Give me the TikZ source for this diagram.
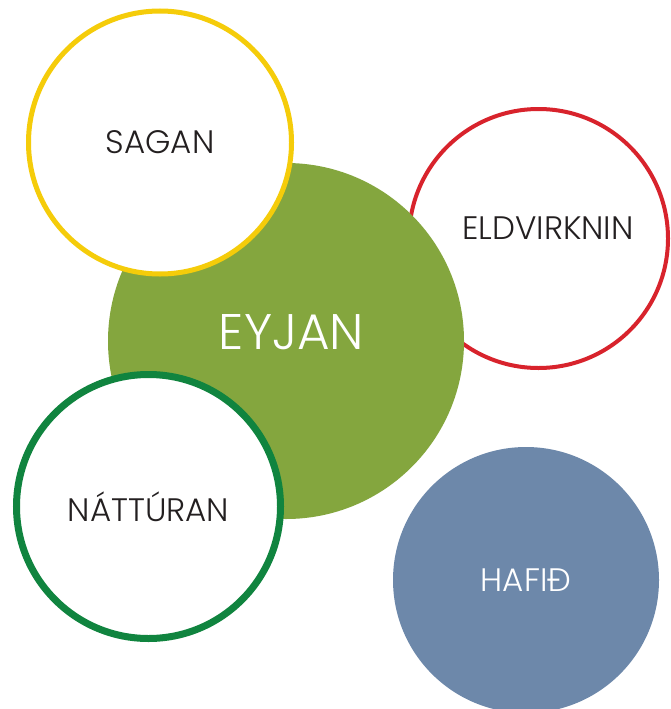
\documentclass[tikz,border=0pt]{standalone}
\usepackage{fontspec}
\setmainfont{Poppins Light}
\definecolor{eyjagreen}{HTML}{84A63E}
\definecolor{saganyellow}{HTML}{F5CC0A}
\definecolor{eldred}{HTML}{D8232C}
\definecolor{natgreen}{HTML}{10843F}
\definecolor{hafblue}{HTML}{6D88AA}
\definecolor{textgray}{HTML}{231F20}

\begin{document}
\begin{tikzpicture}[x=1pt, y=-1pt, ring/.style = {draw, circle, fill=white, inner sep=0pt, text=textgray, font=\fontsize{32.5}{38}\selectfont}, disc/.style = {circle, inner sep=0pt, text=white}]
        \useasboundingbox (0,0) rectangle (670,709);
        \node[ring, draw=eldred, line width=4pt, minimum size=259pt] (eld) at (538.5,238.5) {};
        \node[text=textgray, font=\fontsize{32.5}{38}\selectfont] (eldtext) at (548,228) {ELDVIRKNIN};
        \node[disc, fill=eyjagreen, minimum size=356pt] (eyja) at (286,341) {};
        \node[text=white, font=\fontsize{50}{58}\selectfont] (eyjatext) at (291.5,332) {EYJAN};
        \node[ring, draw=saganyellow, line width=5pt, minimum size=263pt] (saga) at (160,142.5) {SAGAN};
        \node[ring, draw=natgreen, line width=7pt, minimum size=264pt] (nat) at (148.5,506.5) {NÁTTÚRAN};
        \node[disc, fill=hafblue, minimum size=266pt, font=\fontsize{32.5}{38}\selectfont] (haf) at (526,580) {HAFIÐ};
\end{tikzpicture}
\end{document}
